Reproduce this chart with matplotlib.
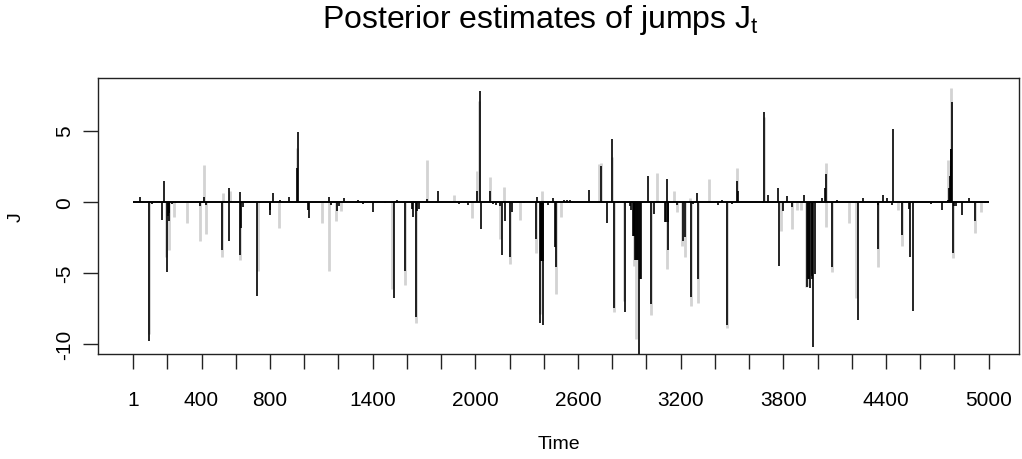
import matplotlib
matplotlib.use("Agg")
import matplotlib.pyplot as plt
import numpy as np

plt.rcParams['font.family'] = ['Liberation Sans', 'DejaVu Sans']
plt.rcParams['mathtext.default'] = 'regular'

T_START = 1
T_END = 5000

# light grey spikes (drawn first, underneath)
gray_t = [95, 192, 212, 239, 315, 391, 416, 428, 517, 527, 565, 623, 728, 850,
          960, 1102, 1143, 1186, 1213, 1515, 1589, 1651, 1715, 1873,
          1983, 2011, 2024, 2085, 2143, 2168, 2205, 2260, 2353, 2377, 2390, 2469,
          2503, 2725, 2737, 2796, 2808, 2869,
          2930, 2940, 3025, 3062, 3118, 3163, 3179, 3210, 3225, 3256, 3258, 3303,
          3366, 3473, 3527, 3687, 3786, 3849, 3878, 3901, 3933, 3946,
          4047, 4051, 4083, 4186, 4227, 4351, 4470, 4492, 4764, 4780, 4790, 4920, 4955]
gray_j = [-9.3, -3.86, -3.4, -1.05, -1.5, -2.74, 2.6, -2.27, -3.86, 0.6, 0.73, -4.07, -4.9, -1.85,
          3.8, -1.5, -4.85, -1.38, -0.63, -6.13, -5.83, -8.5, 2.93, 0.5,
          -1.15, 2.18, 7.1, 1.7, -2.62, 1.0, -4.38, -1.29, -3.63, -7.9, 0.73, -6.47,
          -1.05, 2.65, 2.72, 3.16, -7.77, -6.95,
          -4.5, -9.64, -7.94, 2.01, -4.73, 0.77, -0.7, -3.09, -3.86, 0.23, -7.3, -7.14,
          1.59, -8.87, 2.36, 5.93, -2.08, -1.94, -0.59, -0.59, -6.0, -5.9,
          2.69, -1.76, -4.96, -1.52, -6.74, -4.6, -0.59, -3.09, 2.93, 7.96, -3.96, -2.18, -0.75]

# black spikes (posterior estimates, on top)
black_t = [40, 95, 110, 171, 178, 198, 203, 207, 212, 225, 235, 250, 391, 416, 428,
           519, 558, 560, 625, 627, 632, 640, 724, 740, 800, 802, 817, 860,
           911, 958, 962, 1022, 1026, 1143, 1155, 1190, 1205, 1232, 1312, 1342, 1404,
           1475, 1525, 1545, 1589, 1628, 1636, 1651, 1660, 1668, 1715, 1784, 1905,
           1958, 2011, 2026, 2032, 2085, 2105, 2118, 2145, 2153, 2174, 2205, 2215,
           2285, 2353, 2361, 2377, 2381, 2385, 2389, 2393, 2397, 2425, 2451, 2466, 2474,
           2517, 2537, 2555, 2666, 2737, 2767, 2796, 2809, 2835, 2877, 2905, 2912,
           2920, 2925, 2930, 2935, 2940, 2945, 2950, 2957, 2962, 2968,
           3011, 3027, 3046, 3110, 3115, 3122, 3123, 3128, 3180, 3212, 3225, 3260,
           3270, 3297, 3299, 3420, 3443, 3473, 3502, 3527, 3537, 3680, 3687, 3708,
           3771, 3773, 3800, 3819, 3849, 3923, 3936, 3945, 3950, 3956, 3965, 3970,
           3975, 3985,
           4024, 4045, 4049, 4086, 4116, 4236, 4264, 4352, 4355, 4385, 4408, 4437,
           4439, 4494, 4535, 4540, 4560, 4661, 4727, 4760, 4770, 4775, 4778, 4780,
           4782, 4784, 4790, 4800, 4807, 4842, 4887, 4920, 4978]
black_j = [0.35, -9.76, -0.15, -1.29, 1.47, -4.96, -1.0, -0.8, -1.38, -0.15, -0.12, -0.1, -0.28, 0.35, -0.2,
           -3.4, 0.94, -2.74, 0.7, -3.75, -1.85, -0.4, -6.62, -0.1, -0.6, -0.91, 0.6, 0.15,
           0.35, 2.4, 4.9, -0.6, -1.15, 0.35, -0.2, -0.63, -0.3, 0.23, 0.1, -0.15, -0.75,
           -0.1, -6.77, 0.15, -4.85, -0.5, -1.05, -8.1, -0.68, -0.5, 0.2, 0.73, -0.15,
           -0.25, 0.73, 7.75, -1.92, 0.73, -0.15, -0.2, -0.3, -3.75, -1.38, -3.9, -0.7,
           -0.1, -2.62, 0.35, -8.54, -4.2, -4.2, -4.2, -8.64, -4.2, -0.2, 0.23, -3.2, -4.6,
           0.12, 0.12, 0.12, 0.82, 2.48, -1.5, 4.4, -7.47, -0.1, -7.77, -0.3, -0.6,
           -2.4, -2.4, -2.4, -4.1, -4.1, -4.1, -4.1, -11.0, -5.43, -5.43,
           1.83, -7.19, -0.87, -1.45, -1.45, 1.59, -3.4, -1.45, -0.2, -2.74, -2.5, -6.67,
           -0.15, 0.6, -5.43, -0.25, 0.15, -8.64, -0.15, 1.47, 0.73, -0.1, 6.27, 0.5,
           0.94, -4.54, -0.68, 0.4, -0.35, 0.5, -6.0, -5.4, -5.4, -6.06, -5.43, -5.2,
           -10.2, -5.08,
           0.26, 0.94, 1.94, -4.56, 0.12, -8.31, 0.23, -0.2, -3.32, 0.5, 0.26, -0.2,
           5.1, -2.34, -0.5, -3.86, -7.7, -0.15, -0.59, 0.1, 0.94, 1.83, 2.5, 3.7,
           3.7, 6.98, -3.63, -0.3, -0.3, -0.91, 0.23, -1.38, -0.1]

x_tick_pos = [1] + list(range(200, 5001, 200))
x_tick_show = [1, 400, 800, 1400, 2000, 2600, 3200, 3800, 4400, 5000]
y_tick_pos = [-10, -5, 0, 5]

fig = plt.figure(figsize=(10.22, 4.6), dpi=100)
ax = fig.add_axes([98 / 1022, 105 / 460, 921 / 1022, 276 / 460])

ax.vlines(gray_t, 0, gray_j, colors='#d3d3d3', linewidth=2.0)
ax.hlines(0, T_START, T_END, colors='black', linewidth=1.4)
ax.vlines(black_t, 0, black_j, colors='black', linewidth=1.2)

ax.set_xlim(-205, 5177)
ax.set_ylim(-10.7, 8.69)

ax.set_xticks(x_tick_pos)
ax.set_xticklabels([str(v) if v in x_tick_show else '' for v in x_tick_pos])
ax.set_yticks(y_tick_pos)
ax.set_yticklabels([str(v) for v in y_tick_pos], rotation=90, va='center')

ax.tick_params(axis='both', direction='out', length=11, width=1, color='#222222', labelsize=15)
ax.tick_params(axis='x', pad=15)
ax.tick_params(axis='y', pad=6)
for sp in ax.spines.values():
    sp.set_linewidth(1)
    sp.set_color('#222222')

ax.set_xlabel('Time', fontsize=14, labelpad=19)
ax.set_ylabel('J', fontsize=14, labelpad=22)
fig.text(540 / 1022, 1 - 20 / 460, 'Posterior estimates of jumps $J_t$',
         ha='center', va='center', fontsize=23)

fig.savefig('out.png', dpi=100)
